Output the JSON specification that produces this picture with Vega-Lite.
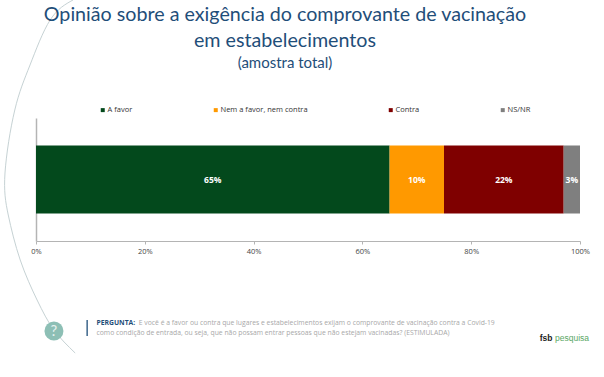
{
"$schema":"https://vega.github.io/schema/vega-lite/v6.json",
"width":544,"height":123,
"autosize":{"type":"none"},
"padding":{"left":36,"top":118,"right":24,"bottom":136},
"background":"#ffffff",
"view":{"stroke":null},
"title":{"text":["Opinião sobre a exigência do comprovante de vacinação","em estabelecimentos"],"subtitle":"(amostra total)","anchor":"start","frame":"group","align":"center","dx":249,"offset":-73,"font":"Lato","fontSize":19.7,"fontWeight":"normal","color":"#1f4e79","lineHeight":26,"subtitleFont":"Lato","subtitleFontSize":15,"subtitleColor":"#1f4e79","subtitlePadding":5},
"datasets":{
"bars":[{"cat":"Total","resposta":"A favor","valor":65,"ordem":1,"rotulo":"65%"},{"cat":"Total","resposta":"Nem a favor, nem contra","valor":10,"ordem":2,"rotulo":"10%"},{"cat":"Total","resposta":"Contra","valor":22,"ordem":3,"rotulo":"22%"},{"cat":"Total","resposta":"NS/NR","valor":3,"ordem":4,"rotulo":"3%"}],
"arco":[{"a":6.8,"b":241},{"a":2.6,"b":221},{"a":-1.1,"b":176},{"a":-3.9,"b":131},{"a":-5.7,"b":68},{"a":-5.1,"b":26},{"a":-2.9,"b":-19},{"a":0.2,"b":-59},{"a":3.3,"b":-89},{"a":7.2,"b":-112}],
"pontos":[{"a":3.3,"b":-90}],
"barra":[{"a":9.4,"b":-79,"b2":-95}],
"marca":[{"a":3.3,"b":-90,"t":"?"}],
"pergunta":[{"a":18.9,"b":-82,"t":"E você é a favor ou contra que lugares e estabelecimentos exijam o comprovante de vacinação contra a Covid-19"}],
"logo1":[{"a":92.6,"b":-97,"t":"fsb"}],
"logo2":[{"a":95.4,"b":-97,"t":"pesquisa"}]
},
"resolve":{"scale":{"y":"independent"}},
"layer":[
{"data":{"name":"bars"},"transform":[{"stack":"valor","sort":[{"field":"ordem"}],"groupby":["cat"],"as":["ini","fim"]}],
"mark":{"type":"bar"},
"encoding":{
"x":{"field":"ini","type":"quantitative","scale":{"domain":[0,100],"nice":false},
"axis":{"values":[0,20,40,60,80,100],"labelExpr":"datum.value+'%'","grid":false,"domainColor":"#b4b4b4","tickColor":"#b4b4b4","tickSize":3,"labelColor":"#444444","labelFont":"Open Sans","labelFontSize":7.5,"labelPadding":3,"labelFlush":false,
"title":"como condição de entrada, ou seja, que não possam entrar pessoas que não estejam vacinadas? (ESTIMULADA)",
"titleFont":"Open Sans","titleFontSize":6.8,"titleFontWeight":"normal","titleColor":"#a8a8a8","titleAnchor":"start","titleAlign":"left","titleBaseline":"top","titleX":60,"titleY":88}},
"x2":{"field":"fim"},
"y":{"field":"cat","type":"nominal","scale":{"paddingInner":0.447,"paddingOuter":0.2235},
"axis":{"labels":false,"ticks":false,"domainColor":"#b4b4b4","domainWidth":1.5,"title":"PERGUNTA:","titleAngle":0,"titleFont":"Open Sans","titleFontSize":6.8,"titleFontWeight":"bold","titleColor":"#1f4e79","titleAlign":"left","titleBaseline":"top","titleX":60,"titleY":201}},
"color":{"field":"resposta","type":"nominal","scale":{"domain":["A favor","Nem a favor, nem contra","Contra","NS/NR"],"range":["#03491c","#ff9900","#7f0000","#7f7f7f"]},
"legend":{"orient":"none","legendX":63,"legendY":-12,"direction":"horizontal","columns":4,"columnPadding":79,"title":null,"symbolType":"square","symbolSize":16,"symbolStrokeWidth":0,"labelFont":"Open Sans","labelFontSize":7.5,"labelColor":"#333333","labelOffset":1}}
}},
{"data":{"name":"bars"},"transform":[{"stack":"valor","sort":[{"field":"ordem"}],"groupby":["cat"],"as":["ini","fim"]},{"calculate":"(datum.ini+datum.fim)/2","as":"meio"}],
"mark":{"type":"text","color":"#ffffff","font":"Open Sans","fontSize":8.5,"fontWeight":"bold"},
"encoding":{
"x":{"field":"meio","type":"quantitative"},
"y":{"field":"cat","type":"nominal","scale":{"paddingInner":0.447,"paddingOuter":0.2235},"axis":null},
"text":{"field":"rotulo"}}},
{"data":{"name":"arco"},"mark":{"type":"line","color":"#c6d2d4","strokeWidth":1,"interpolate":"natural","clip":false},
"encoding":{"x":{"field":"a","type":"quantitative"},"y":{"field":"b","type":"quantitative","sort":null,"scale":{"domain":[0,123],"nice":false},"axis":null},"order":{"field":"b","sort":"descending"}}},
{"data":{"name":"pontos"},"mark":{"type":"point","filled":true,"opacity":1,"color":"#8dbfb5","size":360,"clip":false},
"encoding":{"x":{"field":"a","type":"quantitative"},"y":{"field":"b","type":"quantitative","scale":{"domain":[0,123],"nice":false},"axis":null}}},
{"data":{"name":"marca"},"mark":{"type":"text","color":"#e6f1ee","font":"Lato","fontSize":15,"clip":false},
"encoding":{"x":{"field":"a","type":"quantitative"},"y":{"field":"b","type":"quantitative","scale":{"domain":[0,123],"nice":false},"axis":null},"text":{"field":"t"}}},
{"data":{"name":"barra"},"mark":{"type":"rule","color":"#1f4e79","strokeWidth":1.3,"clip":false},
"encoding":{"x":{"field":"a","type":"quantitative"},"y":{"field":"b","type":"quantitative","scale":{"domain":[0,123],"nice":false},"axis":null},"y2":{"field":"b2"}}},
{"data":{"name":"pergunta"},"mark":{"type":"text","color":"#a8a8a8","font":"Open Sans","fontSize":6.8,"align":"left","clip":false},
"encoding":{"x":{"field":"a","type":"quantitative"},"y":{"field":"b","type":"quantitative","scale":{"domain":[0,123],"nice":false},"axis":null},"text":{"field":"t"}}},
{"data":{"name":"logo1"},"mark":{"type":"text","color":"#222222","font":"Liberation Sans","fontWeight":"bold","fontSize":8.5,"align":"left","clip":false},
"encoding":{"x":{"field":"a","type":"quantitative"},"y":{"field":"b","type":"quantitative","scale":{"domain":[0,123],"nice":false},"axis":null},"text":{"field":"t"}}},
{"data":{"name":"logo2"},"mark":{"type":"text","color":"#5aa766","font":"Liberation Sans","fontSize":8.5,"align":"left","clip":false},
"encoding":{"x":{"field":"a","type":"quantitative"},"y":{"field":"b","type":"quantitative","scale":{"domain":[0,123],"nice":false},"axis":null},"text":{"field":"t"}}}
]
}
